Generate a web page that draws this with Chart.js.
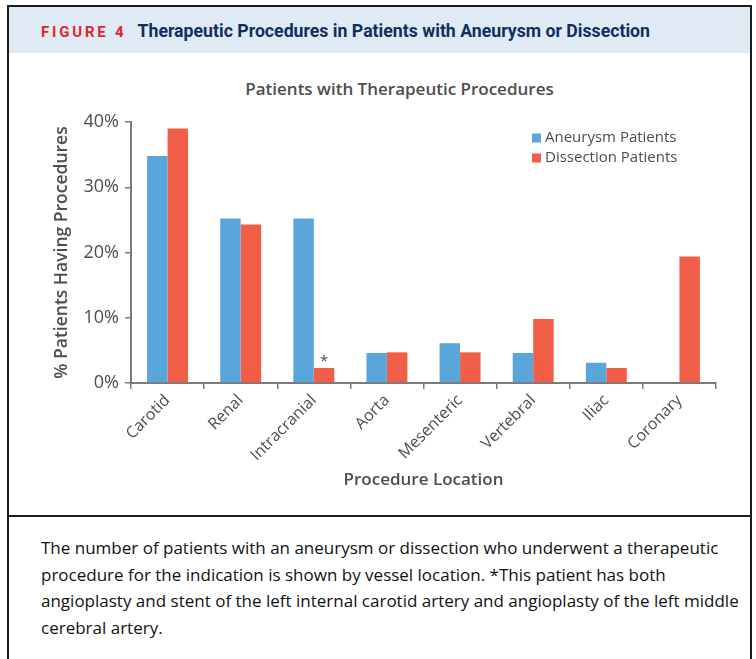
<!DOCTYPE html>
<html>
<head>
<meta charset="utf-8">
<script src="https://cdn.jsdelivr.net/npm/chart.js@4.4.0/dist/chart.umd.min.js"></script>
<style>
  body { margin: 0; background: #fff; }
  #fig { position: absolute; left: 7px; top: 5px; width: 745px; height: 700px;
         border: 2px solid #1c1c1c; border-bottom: none; box-sizing: border-box; }
  #head { position: absolute; left: 0; top: 0; right: 0; height: 46px; background: #dfeaf5;
          font-family: Roboto, sans-serif; font-weight: bold; line-height: 48px; white-space: nowrap; }
  #head .fig { color: #e3262d; font-size: 15px; letter-spacing: 2.8px; margin-left: 32px; margin-right: 11px; }
  #head .ttl { color: #102f60; font-size: 17.7px; }
  #plot { position: absolute; left: 0; top: 46px; right: 0; height: 464px; border-bottom: 2px solid #1c1c1c; box-sizing: border-box; }
  #chartTitle { position: absolute; left: 0; width: 781px; top: 24px; text-align: center;
                font: 600 17px "Open Sans", sans-serif; color: #4d4d4d; }
  #myChart { position: absolute; left: 0; top: 1px; }
  #caption { position: absolute; left: 32px; top: 528px; font: 17px "Open Sans", sans-serif; color: #111;
             line-height: 26.5px; white-space: nowrap; }
</style>
</head>
<body>
<div id="fig">
  <div id="head"><span class="fig">FIGURE 4</span><span class="ttl">Therapeutic Procedures in Patients with Aneurysm or Dissection</span></div>
  <div id="plot">
    <div id="chartTitle">Patients with Therapeutic Procedures</div>
    <canvas id="myChart" width="740" height="461"></canvas>
  </div>
  <div id="caption">The number of patients with an aneurysm or dissection who underwent a therapeutic<br>procedure for the indication is shown by vessel location. *This patient has both<br>angioplasty and stent of the left internal carotid artery and angioplasty of the left middle<br>cerebral artery.</div>
</div>
<script>
var categories = ["Carotid", "Renal", "Intracranial", "Aorta", "Mesenteric", "Vertebral", "Iliac", "Coronary"];
var aneurysmPct = [34.8, 25.2, 25.2, 4.6, 6.1, 4.6, 3.1, 0];
var dissectionPct = [39.0, 24.3, 2.3, 4.7, 4.7, 9.8, 2.3, 19.4];
var dissectionNotes = ["", "", "*", "", "", "", "", ""];
var yTickLabels = ["0%", "10%", "20%", "30%", "40%"];

var textGray = "#4d4d4d";
var titleGray = "#4d4d4d";
var axisGray = "#7a7a7a";

// legend sits inside the plot, top right, like the original
var plotLegend = {
    id: 'plotLegend',
    afterDraw: function (chart) {
        var ctx = chart.ctx, area = chart.chartArea;
        ctx.save();
        ctx.font = '15px "Open Sans"';
        ctx.textBaseline = 'middle';
        chart.data.datasets.forEach(function (ds, i) {
            var x = area.right - 184, y = area.top + 16 + i * 20;
            ctx.fillStyle = ds.backgroundColor;
            ctx.fillRect(x, y - 4.5, 9, 9);
            ctx.fillStyle = textGray;
            ctx.fillText(ds.label, x + 13, y);
        });
        ctx.restore();
    }
};

// asterisk above the flagged bar
var barNotes = {
    id: 'barNotes',
    afterDatasetsDraw: function (chart) {
        var ctx = chart.ctx;
        var meta = chart.getDatasetMeta(1);
        ctx.save();
        ctx.font = '15px "Open Sans"';
        ctx.fillStyle = textGray;
        ctx.textAlign = 'center';
        ctx.textBaseline = 'bottom';
        meta.data.forEach(function (bar, i) {
            if (dissectionNotes[i]) ctx.fillText(dissectionNotes[i], bar.x, bar.y + 1);
        });
        ctx.restore();
    }
};

var ctx = document.getElementById("myChart");
var myChart = new Chart(ctx, {
    type: 'bar',
    data: {
        labels: categories,
        datasets: [
            {
                label: "Aneurysm Patients",
                data: aneurysmPct,
                backgroundColor: "#5aa5da",
                borderWidth: 0,
                categoryPercentage: 0.56,
                barPercentage: 1.0
            },
            {
                label: "Dissection Patients",
                data: dissectionPct,
                backgroundColor: "#f15f48",
                borderWidth: 0,
                categoryPercentage: 0.56,
                barPercentage: 1.0
            }
        ]
    },
    options: {
        responsive: false,
        animation: false,
        layout: { padding: { left: 39, right: 33, top: 68, bottom: 21 } },
        plugins: {
            legend: { display: false },
            title: { display: false },
            tooltip: { enabled: false }
        },
        scales: {
            x: {
                grid: { display: true, drawOnChartArea: false, drawTicks: true, tickLength: 6, color: axisGray, lineWidth: 1.5 },
                border: { color: axisGray, width: 2 },
                ticks: { color: textGray, font: { family: "Open Sans", size: 16 }, maxRotation: 45, minRotation: 45, padding: 2 },
                title: { display: true, text: "Procedure Location", color: titleGray, font: { family: "Open Sans", size: 17, weight: 600 }, padding: { top: 4, bottom: 4 } },
                afterFit: function (s) { s.height = 111; }
            },
            y: {
                min: 0,
                max: 40,
                grid: { display: true, drawOnChartArea: false, drawTicks: true, tickLength: 6, color: axisGray, lineWidth: 1.5 },
                border: { color: axisGray, width: 2 },
                ticks: {
                    stepSize: 10,
                    color: textGray,
                    font: { family: "Open Sans", size: 18 },
                    padding: 6,
                    callback: function (v, i) { return yTickLabels[i]; }
                },
                title: { display: true, text: "% Patients Having Procedures", color: titleGray, font: { family: "Open Sans", size: 17.5, weight: 600 }, padding: { top: 4, bottom: 4 } },
                afterFit: function (s) { s.width = 83; }
            }
        }
    },
    plugins: [plotLegend, barNotes]
});
</script>
</body>
</html>
